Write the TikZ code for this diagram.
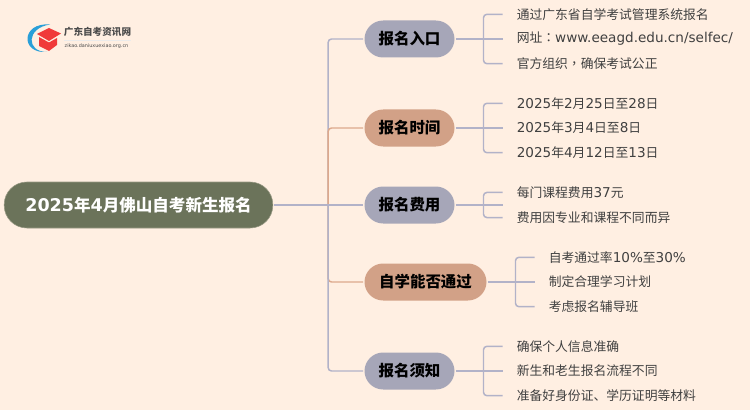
\documentclass[tikz,border=0pt]{standalone}
\usepackage{fontspec}
\setmainfont{Noto Sans CJK SC}
\newfontfamily\latinfont[Scale=1.06]{DejaVu Sans}
\newfontfamily\markfont{Noto Sans CJK TC}
\usetikzlibrary{positioning}
\usetikzlibrary{calc}
\definecolor{paper}{HTML}{FFEFE2}
\definecolor{rootfill}{HTML}{6B735A}
\definecolor{greyfill}{HTML}{A6A6B8}
\definecolor{sandfill}{HTML}{D2A187}
\definecolor{greyline}{HTML}{B2B2C8}
\definecolor{sandline}{HTML}{DDA98C}
\definecolor{leaftext}{HTML}{404040}
\definecolor{logoblue}{HTML}{2A9FD8}
\definecolor{logored}{HTML}{F03A3A}
\newcommand{\la}[1]{{\latinfont #1}}
\newcommand{\pn}[1]{{\markfont #1}}
\tikzset{
    pill/.style={rounded corners=14pt, minimum height=27.75pt, minimum width=67.5pt, inner sep=0pt, outer sep=1pt, font=\fontsize{11.6}{14}\selectfont\bfseries, text=black},
    greypill/.style={pill, fill=greyfill},
    sandpill/.style={pill, fill=sandfill},
    leaf/.style={inner ysep=0pt, inner xsep=10.5pt, font=\fontsize{9.6}{12}\selectfont, text=leaftext},
    link/.style={draw=greyline, line width=1.1pt},
    sandlink/.style={draw=sandline, line width=1.1pt, rounded corners=2.5pt},
    bracket/.style={link, rounded corners=2.5pt}
}
\begin{document}
\begin{tikzpicture}[x=0.75pt, y=-0.75pt]
    \fill[paper] (0,0) rectangle (750,410);
    \useasboundingbox (0,0) rectangle (750,410);

    % logo
    \fill[logoblue] (50,24.5) .. controls (21,22) and (20,54) .. (47,52) .. controls (26,52) and (26,28) .. (50,24.5) -- cycle;
    \fill[logored] (39,37) -- (39,46) -- (49,51) -- (57,45) -- (57,38) -- (49,42.5) -- cycle;
    \fill[logored] (49,28) -- (61,33.5) -- (49,41) -- (37,34) -- cycle;
    \node[inner sep=0pt, font=\fontsize{7.2}{9}\selectfont\bfseries, text=black!70] (logo_name) at (97.5,31.5) {广东自考资讯网};
    \node[inner sep=0pt, font=\fontsize{3.45}{5}\selectfont, text=black!70] (logo_url) at (96.5,46.5) {\la{zikao.daniuxuexiao.org.cn}};
    \draw[black!8, line width=0.4pt] (64,40.7) -- (131,40.7);

    \node[rounded corners=17pt, fill=rootfill, draw=rootfill!70!paper, line width=0.4pt, minimum width=201.5pt, minimum height=34.5pt, inner sep=0pt, outer sep=1pt, text=white, font=\fontsize{12.4}{15}\selectfont\bfseries] (root) at (138.5,205) {\la{2025}年\la{4}月佛山自考新生报名};

    \node[greypill, right=66.75pt of root] (fee) {报名费用};
    \node[sandpill, above=28pt of fee] (time) {报名时间};
    \node[greypill, above=37pt of time] (entry) {报名入口};
    \node[sandpill, below=28pt of fee.south west, anchor=north west, minimum width=91.5pt] (pass) {自学能否通过};
    \node[greypill, below=37pt of pass.south west, anchor=north west] (notice) {报名须知};

    \coordinate[left=26.25pt of fee.west] (trunk);

    \node[leaf, right=0pt of entry, xshift=35pt] (entry_2) {网址\pn{：}\la{www.eeagd.edu.cn/selfec/}};
    \node[leaf, above=18.5pt of entry_2.west, anchor=west] (entry_1) {通过广东省自学考试管理系统报名};
    \node[leaf, below=18.5pt of entry_2.west, anchor=west] (entry_3) {官方组织\pn{，}确保考试公正};

    \node[leaf, right=0pt of time, xshift=35pt] (time_2) {\la{2025}年\la{3}月\la{4}日至\la{8}日};
    \node[leaf, above=18.5pt of time_2.west, anchor=west] (time_1) {\la{2025}年\la{2}月\la{25}日至\la{28}日};
    \node[leaf, below=18.5pt of time_2.west, anchor=west] (time_3) {\la{2025}年\la{4}月\la{12}日至\la{13}日};

    \coordinate[right=35pt of fee.east] (fee_c);
    \node[leaf, above=9.4pt of fee_c, anchor=west] (fee_1) {每门课程费用\la{37}元};
    \node[leaf, below=9.4pt of fee_c, anchor=west] (fee_2) {费用因专业和课程不同而异};

    \node[leaf, right=0pt of pass, xshift=35pt] (pass_2) {制定合理学习计划};
    \node[leaf, above=18.5pt of pass_2.west, anchor=west] (pass_1) {自考通过率\la{10\%}至\la{30\%}};
    \node[leaf, below=18.5pt of pass_2.west, anchor=west] (pass_3) {考虑报名辅导班};

    \node[leaf, right=0pt of notice, xshift=35pt] (notice_2) {新生和老生报名流程不同};
    \node[leaf, above=18.5pt of notice_2.west, anchor=west] (notice_1) {确保个人信息准确};
    \node[leaf, below=18.5pt of notice_2.west, anchor=west] (notice_3) {准备好身份证、学历证明等材料};

    % main branches
    \draw[sandlink] (trunk) |- (pass.west);
    \draw[bracket] (trunk) |- (entry.west);
    \draw[bracket] (trunk) |- (notice.west);
    \draw[sandlink] (trunk) |- (time.west);
    \draw[link] (root.east) -- (fee.west);

    % leaf brackets
    \foreach \pname in {entry, time, pass, notice} {
        \draw[link] (\pname.east) -- (\pname_2.west);
        \draw[bracket] (\pname_1.west) -- ++(-19,0) |- (\pname_3.west);
    }
    \draw[link] (fee.east) -- (fee_c);
    \draw[bracket] (fee_1.west) -- ++(-19,0) |- (fee_2.west);
\end{tikzpicture}
\end{document}
